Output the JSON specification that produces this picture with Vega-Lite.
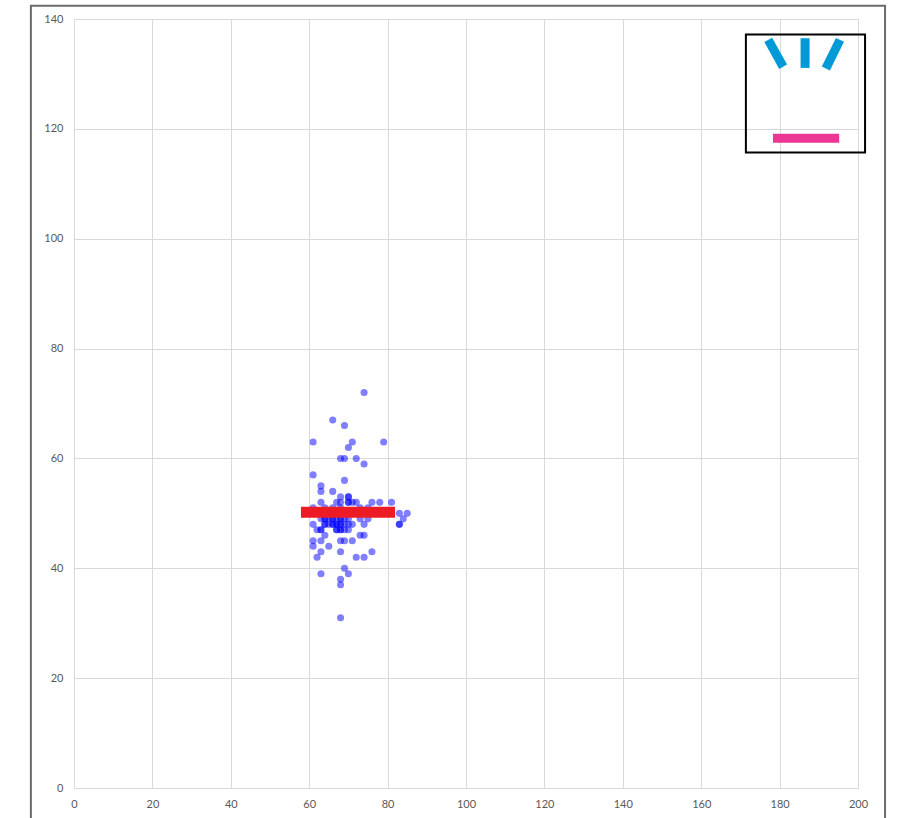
{
  "$schema": "https://vega.github.io/schema/vega-lite/v6.json",
  "width": 784,
  "height": 769,
  "autosize": "none",
  "padding": {"left": 74, "top": 19, "right": 44, "bottom": 30},
  "background": "white",
  "config": {
    "view": {"stroke": null},
    "axis": {"labelFont": "Lato", "labelFontSize": 11, "labelColor": "#595959", "gridColor": "#d9d9d9", "gridWidth": 1, "domain": false, "ticks": false, "title": null, "labelFlush": false, "labelOverlap": false}
  },
  "datasets": {
    "pts": [
      {"x":74,"y":72},{"x":66,"y":67},{"x":69,"y":66},{"x":61,"y":63},{"x":71,"y":63},{"x":79,"y":63},{"x":70,"y":62},
      {"x":68,"y":60},{"x":69,"y":60},{"x":72,"y":60},{"x":74,"y":59},{"x":61,"y":57},{"x":69,"y":56},{"x":63,"y":55},
      {"x":63,"y":54},{"x":66,"y":54},{"x":68,"y":53},{"x":70,"y":53},{"x":70,"y":53},
      {"x":63,"y":52},{"x":67,"y":52},{"x":68,"y":52},{"x":70,"y":52},{"x":70,"y":52},{"x":71,"y":52},{"x":72,"y":52},{"x":76,"y":52},{"x":78,"y":52},{"x":81,"y":52},
      {"x":61,"y":51},{"x":64,"y":51},{"x":66,"y":51},{"x":68,"y":51},{"x":73,"y":51},{"x":75,"y":51},
      {"x":62,"y":50},{"x":65,"y":50},{"x":67,"y":50},{"x":69,"y":50},{"x":71,"y":50},{"x":74,"y":50},{"x":77,"y":50},{"x":83,"y":50},{"x":85,"y":50},
      {"x":84,"y":49},{"x":63,"y":49},{"x":64,"y":49},{"x":64,"y":49},{"x":65,"y":49},{"x":66,"y":49},{"x":66,"y":49},{"x":67,"y":49},{"x":68,"y":49},{"x":68,"y":49},{"x":69,"y":49},{"x":70,"y":49},{"x":73,"y":49},{"x":75,"y":49},
      {"x":61,"y":48},{"x":83,"y":48},{"x":83,"y":48},{"x":64,"y":48},{"x":64,"y":48},{"x":65,"y":48},{"x":66,"y":48},{"x":66,"y":48},{"x":67,"y":48},{"x":67,"y":48},{"x":68,"y":48},{"x":68,"y":48},{"x":69,"y":48},{"x":70,"y":48},{"x":71,"y":48},{"x":74,"y":48},
      {"x":62,"y":47},{"x":63,"y":47},{"x":63,"y":47},{"x":67,"y":47},{"x":67,"y":47},{"x":68,"y":47},{"x":68,"y":47},{"x":69,"y":47},{"x":70,"y":47},
      {"x":64,"y":46},{"x":73,"y":46},{"x":74,"y":46},
      {"x":61,"y":45},{"x":63,"y":45},{"x":68,"y":45},{"x":69,"y":45},{"x":71,"y":45},
      {"x":61,"y":44},{"x":65,"y":44},
      {"x":63,"y":43},{"x":68,"y":43},{"x":76,"y":43},
      {"x":62,"y":42},{"x":72,"y":42},{"x":74,"y":42},
      {"x":69,"y":40},{"x":63,"y":39},{"x":70,"y":39},{"x":68,"y":38},{"x":68,"y":37},{"x":68,"y":31}
    ],
    "meanbar": [{"x": 57.9, "x2": 81.9, "y": 50.2}],
    "frame": [{"x": -11, "x2": 206.9, "y": 142.4, "y2": -12}],
    "insetbox": [{"x": 171.4, "x2": 201.8, "y": 137.2, "y2": 115.7}],
    "brows": [
      {"x": 177.1, "y": 136.2, "x2": 180.9, "y2": 131.3},
      {"x": 186.5, "y": 136.5, "x2": 186.5, "y2": 131.1},
      {"x": 195.4, "y": 136.2, "x2": 191.8, "y2": 131.0}
    ],
    "mouth": [{"x": 178.3, "x2": 195.2, "y": 118.3}]
  },
  "layer": [
    {
      "data": {"name": "pts"},
      "mark": {"type": "circle", "size": 50, "color": "#0000ff", "opacity": 0.5},
      "encoding": {
        "x": {"field": "x", "type": "quantitative", "scale": {"domain": [0, 200], "nice": false}, "axis": {"values": [0,20,40,60,80,100,120,140,160,180,200], "labelPadding": 10}},
        "y": {"field": "y", "type": "quantitative", "scale": {"domain": [0, 140], "nice": false}, "axis": {"values": [0,20,40,60,80,100,120,140], "labelPadding": 11}}
      }
    },
    {
      "data": {"name": "meanbar"},
      "mark": {"type": "rule", "color": "#ed1c24", "strokeWidth": 11, "strokeCap": "butt"},
      "encoding": {
        "x": {"field": "x", "type": "quantitative"},
        "x2": {"field": "x2"},
        "y": {"field": "y", "type": "quantitative"}
      }
    },
    {
      "data": {"name": "frame"},
      "mark": {"type": "rect", "fill": null, "fillOpacity": 0, "stroke": "#6b6b6b", "strokeWidth": 2, "clip": false},
      "encoding": {
        "x": {"field": "x", "type": "quantitative"},
        "x2": {"field": "x2"},
        "y": {"field": "y", "type": "quantitative"},
        "y2": {"field": "y2"}
      }
    },
    {
      "data": {"name": "insetbox"},
      "mark": {"type": "rect", "fill": null, "fillOpacity": 0, "stroke": "#000000", "strokeWidth": 2, "clip": false},
      "encoding": {
        "x": {"field": "x", "type": "quantitative"},
        "x2": {"field": "x2"},
        "y": {"field": "y", "type": "quantitative"},
        "y2": {"field": "y2"}
      }
    },
    {
      "data": {"name": "brows"},
      "mark": {"type": "rule", "color": "#009bd6", "strokeWidth": 9, "strokeCap": "butt"},
      "encoding": {
        "x": {"field": "x", "type": "quantitative"},
        "x2": {"field": "x2"},
        "y": {"field": "y", "type": "quantitative"},
        "y2": {"field": "y2"}
      }
    },
    {
      "data": {"name": "mouth"},
      "mark": {"type": "rule", "color": "#ec3694", "strokeWidth": 9, "strokeCap": "butt"},
      "encoding": {
        "x": {"field": "x", "type": "quantitative"},
        "x2": {"field": "x2"},
        "y": {"field": "y", "type": "quantitative"}
      }
    }
  ]
}
